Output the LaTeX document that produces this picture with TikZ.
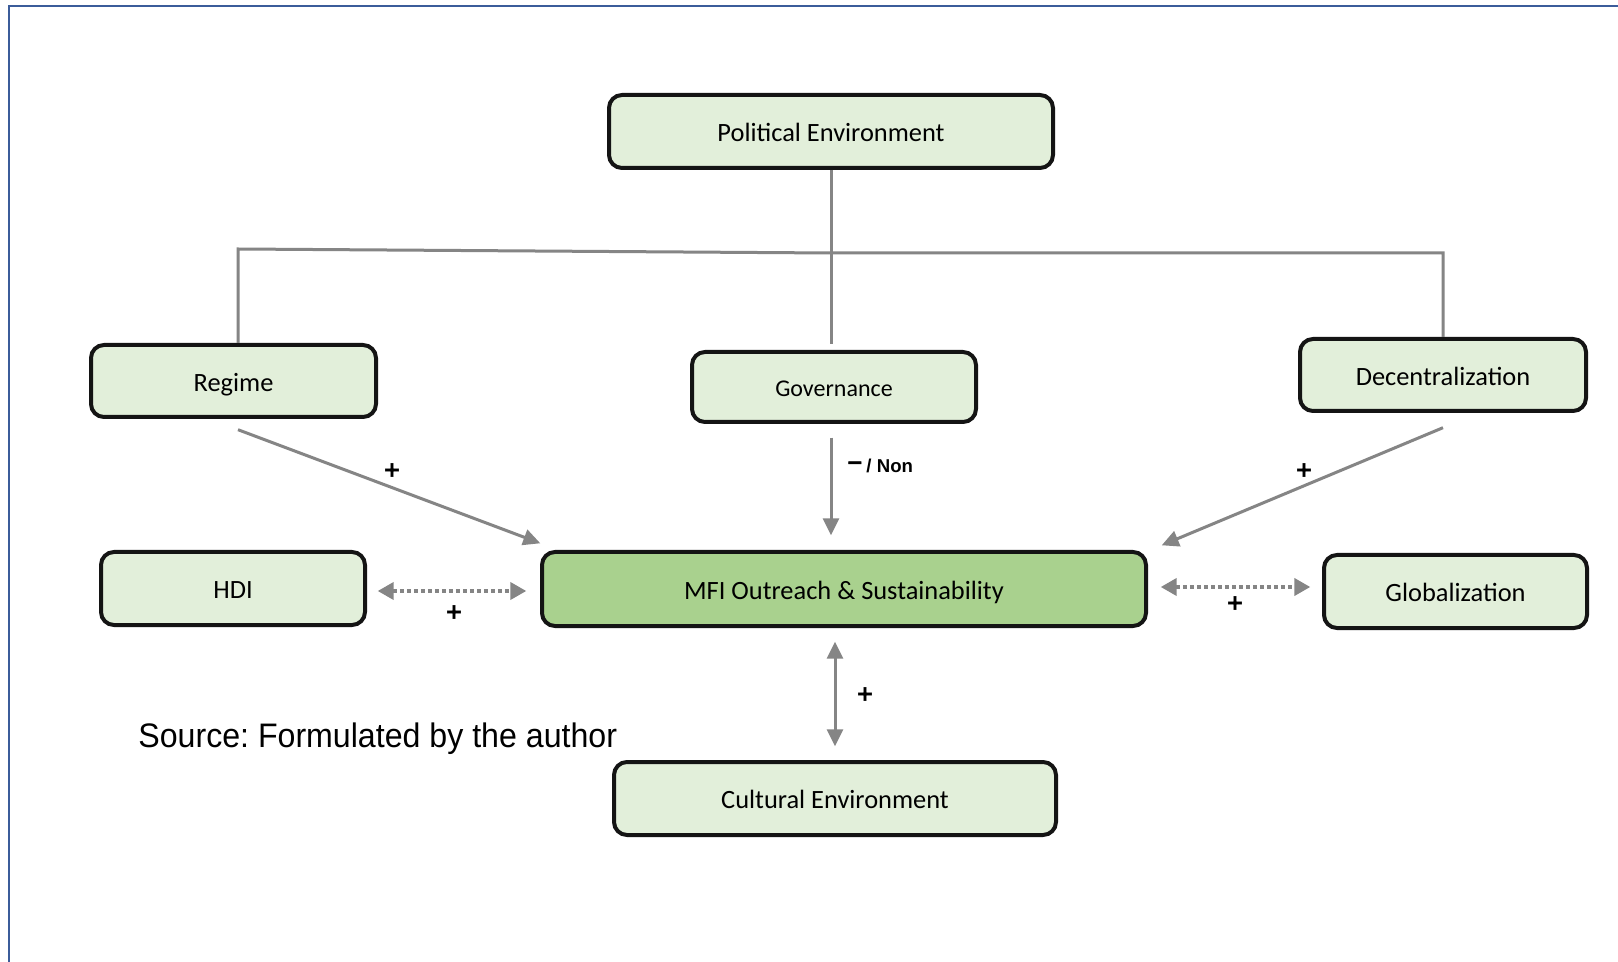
\documentclass[tikz,border=0pt]{standalone}
\usepackage{graphicx}
\usepackage{fontspec}
\setmainfont{Carlito}
\newfontfamily\arialfont{Liberation Sans}
\newfontfamily\dejafont[BoldFeatures={FakeBold=2.2}]{DejaVu Sans}
\usetikzlibrary{arrows.meta}
\definecolor{boxfill}{HTML}{E2EFDA}
\definecolor{mfifill}{HTML}{A9D18E}
\definecolor{linegray}{HTML}{858585}
\definecolor{frameblue}{HTML}{3B5C9A}
\definecolor{boxline}{HTML}{141414}
\frenchspacing
\begin{document}
\begin{tikzpicture}[x=0.5pt,y=-0.5pt,
  box/.style={draw=boxline, line width=2pt, rounded corners=6.5pt, fill=boxfill,
    inner sep=0pt, text height=10.3pt, text depth=0pt,
    font=\fontsize{13.2}{15}\selectfont, text=black},
  conn/.style={draw=linegray, line width=1.5pt},
  arr/.style={conn, -{Triangle[length=8.5pt,width=8pt]}},
  darr/.style={conn, {Triangle[length=8.5pt,width=8pt]}-{Triangle[length=8.5pt,width=8pt]}},
  dotarr/.style={draw=linegray, line width=1.9pt, dash pattern=on 2pt off 1.5pt,
    {Triangle[length=8pt,width=8.5pt]}-{Triangle[length=8pt,width=8.5pt]}},
  sign/.style={font=\dejafont\bfseries\fontsize{10.5}{12}\selectfont, inner sep=0pt, text=black},
]
\useasboundingbox (0,0) rectangle (1618,962);
\fill[white] (0,0) rectangle (1618,962);
% frame
\draw[frameblue, line width=1.4pt] (9,962) -- (9,6) -- (1618,6);

% nodes
\node[box, minimum width=222pt, minimum height=36.5pt] (pol) at (831,131.5) {Political Environment};
\node[box, minimum width=142.5pt, minimum height=36pt] (reg) at (233.5,381) {Regime};
\node[box, minimum width=142pt, minimum height=35pt, text height=9.6pt, font=\fontsize{12}{14}\selectfont] (gov) at (834,387) {Governance};
\node[box, minimum width=143pt, minimum height=36pt] (dec) at (1443,375) {Decentralization};
\node[box, minimum width=132pt, minimum height=36.5pt] (hdi) at (233,588.5) {HDI};
\node[box, minimum width=302pt, minimum height=37pt, fill=mfifill] (mfi) at (844,589) {MFI Outreach \& Sustainability};
\node[box, minimum width=131.5pt, minimum height=36.5pt] (glo) at (1455.5,591.5) {Globalization};
\node[box, minimum width=221pt, minimum height=36.5pt] (cul) at (835,798.5) {Cultural Environment};

% tree from political environment
\coordinate (jl) at (238,249);
\coordinate (jm) at (831,253);
\coordinate (jr) at (1443,253);
\draw[conn, shorten >=3pt] (pol.south) -- (pol.south |- gov.north);
\draw[conn] (reg.north -| jl) -- (jl) -- (jm) -- (jr) -- (jr |- dec.north);

% influence arrows
\draw[arr] ([shift={(4.5,10.7)}]reg.south) -- ([shift={(0.3,-6.7)}]mfi.north west);
\draw[arr] ([shift={(0,14.7)}]dec.south) -- ([shift={(13.7,-4.7)}]mfi.north east);
\draw[arr, shorten <=6.85pt, shorten >=7.35pt] ([xshift=-1.5pt]gov.south) -- ([xshift=-1.5pt]gov.south |- mfi.north);
\draw[dotarr, shorten <=5.35pt, shorten >=6.85pt] ([yshift=-1.25pt]hdi.east) -- ([yshift=-1.25pt]hdi.east -| mfi.west);
\draw[dotarr, shorten <=6.35pt, shorten >=5.85pt] ([yshift=1pt]mfi.east) -- ([yshift=1pt]mfi.east -| glo.west);
\draw[darr, shorten <=6.85pt, shorten >=6.85pt] (cul.north |- mfi.south) -- (cul.north);

% signs
\node[sign] (p1) at (392,470) {+};
\node[sign] (p2) at (1304,470) {+};
\node[sign] (p3) at (454,612) {+};
\node[sign] (p4) at (1235,603) {+};
\node[sign] (p5) at (865,694) {+};
\node[anchor=base west, inner sep=0pt, text=black] (gl) at (846,473)
  {\raisebox{2pt}{\dejafont\bfseries\fontsize{10}{12}\selectfont −}\,{\arialfont\bfseries\fontsize{9.3}{11}\selectfont / Non}};

% source
\node[anchor=base west, inner sep=0pt, text=black, font=\arialfont\fontsize{17}{20}\selectfont] (src) at (138,747)
  {\scalebox{0.945}[1]{Source: Formulated by the author}};
\end{tikzpicture}
\end{document}
